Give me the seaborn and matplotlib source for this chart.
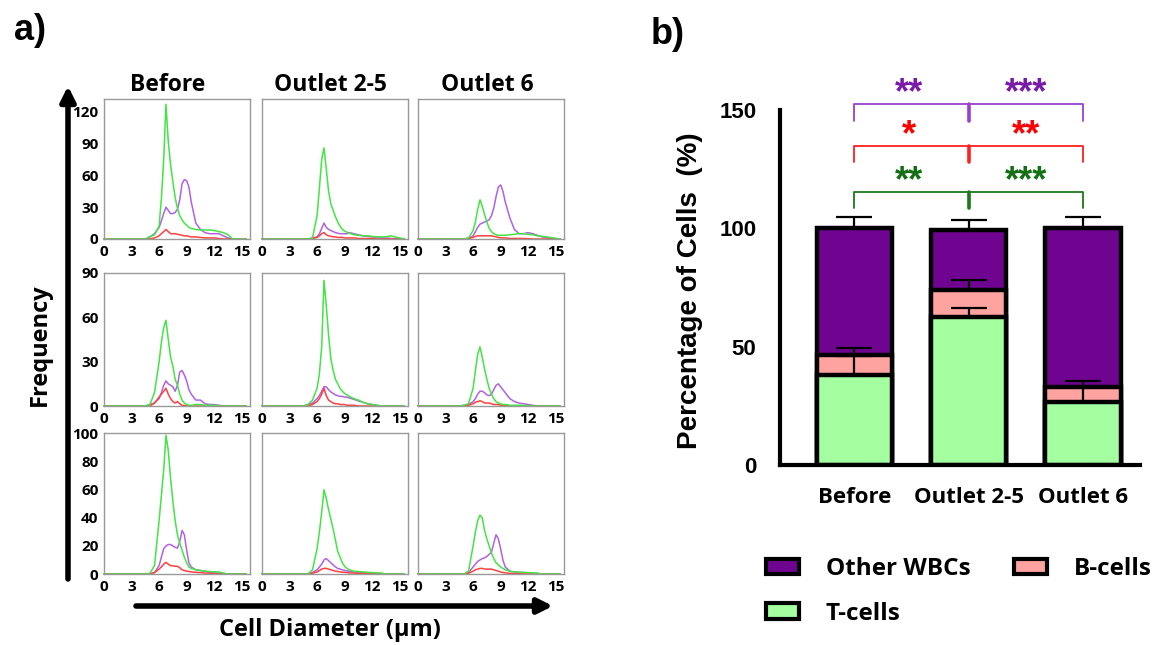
import numpy as np
import pandas as pd
import matplotlib
matplotlib.use("Agg")
import matplotlib.pyplot as plt
import seaborn as sns
from matplotlib.patches import Patch

# ---- histogram data (cell diameter in um, frequency) ----
diam = [0, 4.5, 5, 5.5, 6, 6.25, 6.5, 6.75, 7, 7.25, 7.5, 7.75, 8, 8.25, 8.5,
        8.75, 9, 9.25, 9.5, 10, 10.5, 11, 11.5, 12, 12.5, 13, 13.5, 14, 15.5]
samples = ["Before", "Outlet 2-5", "Outlet 6"]

# row 1
t_r1_before = [0, 0, 2, 4, 12, 38, 75, 127, 92, 70, 54, 39, 29, 22, 18, 15, 13, 11, 10, 9, 8.5, 8.5, 8.5, 8, 7, 6, 4, 0, 0]
o_r1_before = [0, 0, 2, 5, 11, 17, 24, 30, 27, 24, 24, 25, 28, 37, 52, 56, 55, 49, 35, 15, 9, 6, 5, 5, 5, 3, 1, 0, 0]
b_r1_before = [0, 0, 0, 1, 3, 5, 7, 9, 7, 5, 5, 5, 4.5, 4, 3.5, 3, 3, 2.5, 2, 2, 1.5, 1, 1, 1, 0.5, 0, 0, 0, 0]
t_r1_out25 = [0, 0, 0, 1, 22, 48, 75, 86, 66, 45, 33, 27, 21, 16, 12, 9, 7.5, 6.5, 5.5, 4, 3.5, 3, 3, 2.5, 2, 2, 2, 3, 0]
o_r1_out25 = [0, 0, 0, 1, 2, 5, 10, 15, 11, 9, 8, 7, 6, 5.5, 5, 5, 5, 5, 6, 5, 4, 3, 2.5, 2, 1.5, 1, 1, 0.5, 0]
b_r1_out25 = [0, 0, 0, 0.5, 1.5, 3, 5, 6, 4, 3, 2.5, 2, 2, 1.5, 1.5, 1.5, 1, 1, 1, 1, 0.5, 0.5, 0.5, 0.5, 0, 0, 0, 0, 0]
t_r1_out6 = [0, 0, 0, 1, 8, 16, 28, 37, 31, 23, 16, 10, 7, 5, 4, 3.5, 3.5, 3.5, 3.5, 4, 4.5, 5, 5, 4.5, 4, 3, 2.5, 2, 0]
o_r1_out6 = [0, 0, 0, 0.5, 3, 7, 11, 14, 15, 16, 17, 18, 22, 29, 40, 49, 51, 45, 35, 20, 9, 5, 5, 6, 5, 3.5, 2, 1, 0]
b_r1_out6 = [0, 0, 0, 0.5, 1.5, 2.5, 3, 3, 3, 3, 3, 3, 3, 2.5, 2, 1.5, 1, 1, 1, 0.5, 0.5, 0.5, 0.5, 0.3, 0, 0, 0, 0, 0]

# row 2
t_r2_before = [0, 0, 1, 9, 30, 43, 53, 58, 45, 33, 27, 18, 14, 8, 4, 2, 1, 0.5, 0.5, 1, 1, 0.5, 0.5, 0.5, 0, 0, 0, 0, 0]
o_r2_before = [0, 0, 1, 2, 5, 9, 14, 17, 15, 14, 13, 10, 14, 23, 24, 21, 17, 11, 8, 4, 4, 1.5, 1, 1, 0.5, 0, 0, 0, 0]
b_r2_before = [0, 0, 0, 2, 6, 8, 10, 12, 8, 5, 3, 2, 3, 1.5, 0.5, 0.3, 0, 0, 0, 0, 0, 0, 0, 0, 0, 0, 0, 0, 0]
t_r2_out25 = [0, 0, 1, 4, 12, 22, 40, 85, 68, 48, 32, 24, 18, 15, 12, 10, 8.5, 7.5, 6.5, 5, 4, 2.5, 1.5, 1, 0.5, 0, 0, 0, 0]
o_r2_out25 = [0, 0, 1, 2, 5, 7, 10, 13, 13, 11, 9.5, 8.5, 7.5, 7, 6.5, 6.5, 6, 6, 5.5, 4.5, 3.5, 2.5, 1.5, 1, 0.5, 0, 0, 0, 0]
b_r2_out25 = [0, 0, 0, 1, 3, 5, 8, 12, 7, 4, 3, 2, 1.5, 1.5, 1, 1, 1, 0.5, 0.5, 0.5, 0, 0, 0, 0, 0, 0, 0, 0, 0]
t_r2_out6 = [0, 0, 0.5, 1.5, 12, 24, 35, 40, 33, 25, 18, 12, 8, 5, 3, 2, 1.5, 1, 1, 0.5, 0.5, 0.5, 0.3, 0.3, 0, 0, 0, 0, 0]
o_r2_out6 = [0, 0, 0.5, 1, 3, 5, 8, 10, 10, 9, 7.5, 7, 8, 11, 14, 15, 13, 11, 9, 5, 3, 2, 1.5, 1, 0.5, 0, 0, 0, 0]
b_r2_out6 = [0, 0, 0, 0.5, 1.5, 2.5, 3, 3.5, 3, 2, 2, 2, 1.5, 1, 1, 1, 0.5, 0.5, 0.5, 0, 0, 0, 0, 0, 0, 0, 0, 0, 0]

# row 3
t_r3_before = [0, 0, 0.5, 6, 38, 56, 74, 99, 88, 68, 52, 38, 28, 22, 17, 12, 8, 5, 4, 3, 2.5, 2, 1.8, 1.5, 1.5, 0.7, 0, 0, 0]
o_r3_before = [0, 0, 0, 1, 6, 12, 18, 20, 21, 21, 20, 19, 18.5, 23, 31, 28, 17, 8, 5, 3, 2.5, 2, 1.3, 1, 0.5, 0, 0, 0, 0]
b_r3_before = [0, 0, 0, 1, 3.5, 5, 7, 8.3, 7, 6, 5.8, 5.5, 5.5, 4.5, 3, 2.5, 2, 1.8, 1.5, 1.2, 1, 0.7, 0.5, 0.3, 0, 0, 0, 0, 0]
t_r3_out25 = [0, 0, 0, 3, 18, 30, 44, 60, 54, 46, 39, 32, 24, 16, 12, 8, 5.5, 4, 3, 2, 1.8, 1.5, 1.2, 1, 0.8, 0.7, 0, 0, 0]
o_r3_out25 = [0, 0, 0, 1, 3, 5, 7, 10, 11, 9.5, 8, 6.5, 5, 4, 3.5, 3, 2.6, 2.2, 2, 1.5, 1.2, 1, 0.8, 0.6, 0.5, 0, 0, 0, 0]
b_r3_out25 = [0, 0, 0, 0.5, 1.5, 2.5, 3.5, 4, 4, 3.5, 3, 2.5, 2, 1.8, 1.5, 1.3, 1.2, 1, 0.8, 0.6, 0.5, 0.4, 0.3, 0.2, 0, 0, 0, 0, 0]
t_r3_out6 = [0, 0, 0, 2, 20, 30, 38, 42, 40, 31, 25, 20, 15, 11, 8, 6.5, 5, 4, 3, 2, 1.5, 1.3, 1.2, 1, 0.8, 0.7, 0, 0, 0]
o_r3_out6 = [0, 0, 0, 1, 5, 7, 9, 10, 11, 11.5, 12.5, 14, 15.5, 22, 28, 25, 18, 10, 5, 2, 1.5, 1.2, 1, 0.8, 0.5, 0, 0, 0, 0]
b_r3_out6 = [0, 0, 0, 0.5, 2, 3, 3.5, 4, 4, 3.5, 3.5, 3.5, 3.5, 3, 2.5, 2, 1.5, 1, 0.8, 0.5, 0.3, 0.2, 0, 0, 0, 0, 0, 0, 0]

row_ylim = [132, 90, 100.5]
row_yticks = [[0, 30, 60, 90, 120], [0, 30, 60, 90], [0, 20, 40, 60, 80, 100]]
x_ticks = [0, 3, 6, 9, 12, 15]

# ---- stacked bar data (% of cells) ----
groups = ["Before", "Outlet 2-5", "Outlet 6"]
t_pct = [38, 62.5, 26.5]
b_pct = [8.5, 11.5, 6.5]
o_pct = [53.5, 25.5, 67]
t_err = [8, 4, 6.5]
b_err = [3, 4, 2.5]
o_err = [5, 4, 5]
sig_t = ["**", "***"]
sig_b = ["*", "**"]
sig_o = ["**", "***"]

# colours
hist_pal = {"Other WBCs": "#b062e0", "B-cells": "#ff4040", "T-cells": "#44e444"}
bar_other = "#6f0490"
bar_b = "#ffa3a0"
bar_t = "#a3ffa0"

sns.set_theme(style="white")
plt.rcParams["font.family"] = ["Open Sans", "DejaVu Sans"]
plt.rcParams["font.weight"] = "bold"
plt.rcParams["text.color"] = "black"
plt.rcParams["axes.labelcolor"] = "black"
plt.rcParams["xtick.color"] = "black"
plt.rcParams["ytick.color"] = "black"

W, H = 1160, 645
fig = plt.figure(figsize=(11.6, 6.45), dpi=100)


def fx(px):
    return px / W


def fy(py):
    return 1 - py / H


ARIAL = ["Liberation Sans", "DejaVu Sans"]

# build long-form table for the histograms
curves = {
    (0, "Before"): (t_r1_before, b_r1_before, o_r1_before),
    (0, "Outlet 2-5"): (t_r1_out25, b_r1_out25, o_r1_out25),
    (0, "Outlet 6"): (t_r1_out6, b_r1_out6, o_r1_out6),
    (1, "Before"): (t_r2_before, b_r2_before, o_r2_before),
    (1, "Outlet 2-5"): (t_r2_out25, b_r2_out25, o_r2_out25),
    (1, "Outlet 6"): (t_r2_out6, b_r2_out6, o_r2_out6),
    (2, "Before"): (t_r3_before, b_r3_before, o_r3_before),
    (2, "Outlet 2-5"): (t_r3_out25, b_r3_out25, o_r3_out25),
    (2, "Outlet 6"): (t_r3_out6, b_r3_out6, o_r3_out6),
}
frames = []
for (row, sample), (t, b, o) in curves.items():
    for cell, vals in [("Other WBCs", o), ("B-cells", b), ("T-cells", t)]:
        d = pd.DataFrame({"diameter": diam, "freq": vals})
        d["row"] = row
        d["sample"] = sample
        d["cell"] = cell
        frames.append(d)
hist_df = pd.concat(frames, ignore_index=True)

col_left = [104, 262, 418]
col_w = 146
row_top = [99, 273, 433]
row_h = [140, 133, 141]
title_cx = [168, 330, 487]

for r in range(3):
    for c, sample in enumerate(samples):
        ax = fig.add_axes([fx(col_left[c]), fy(row_top[r] + row_h[r]),
                           col_w / W, row_h[r] / H])
        sub = hist_df[(hist_df["row"] == r) & (hist_df["sample"] == sample)]
        sns.lineplot(data=sub, x="diameter", y="freq", hue="cell",
                     palette=hist_pal, ax=ax, legend=False, lw=1.1,
                     clip_on=False)
        ax.set_xlim(0, 15.9)
        ax.set_ylim(0, row_ylim[r])
        ax.set_xticks(x_ticks)
        ax.set_yticks(row_yticks[r])
        ax.set_xlabel("")
        ax.set_ylabel("")
        for s in ax.spines.values():
            s.set_color("#999999")
            s.set_linewidth(1.0)
        ax.tick_params(axis="both", length=2.5, width=0.8, color="#999999",
                       labelsize=11, pad=1.5, labelcolor="black")
        if c > 0:
            ax.tick_params(labelleft=False)
        for lab in ax.get_xticklabels() + ax.get_yticklabels():
            lab.set_fontweight("bold")
        if r == 0:
            ax.set_title(sample, fontsize=16.5, fontweight="bold", pad=6,
                         x=(title_cx[c] - col_left[c]) / col_w)

# ---- panel b: stacked bars ----
axb = fig.add_axes([fx(780), fy(465), (1140 - 780) / W, (465 - 110) / H])
tb_top = [t + b for t, b in zip(t_pct, b_pct)]
all_top = [t + b + o for t, b, o in zip(t_pct, b_pct, o_pct)]
sns.barplot(x=groups, y=all_top, color=bar_other, saturation=1, width=0.66,
            edgecolor="black", linewidth=3.2, errorbar=None, ax=axb)
sns.barplot(x=groups, y=tb_top, color=bar_b, saturation=1, width=0.66,
            edgecolor="black", linewidth=3.2, errorbar=None, ax=axb)
sns.barplot(x=groups, y=t_pct, color=bar_t, saturation=1, width=0.66,
            edgecolor="black", linewidth=3.2, errorbar=None, ax=axb)

xpos = np.arange(len(groups))
for tops, err in [(t_pct, t_err), (tb_top, b_err), (all_top, o_err)]:
    axb.errorbar(xpos, tops, yerr=[np.zeros(len(err)), err], fmt="none",
                 ecolor="black", elinewidth=1.6, capsize=13, capthick=1.6,
                 zorder=6)

axb.set_xlim(-0.65, 2.5)
axb.set_ylim(0, 150)
axb.set_yticks([0, 50, 100, 150])
sns.despine(ax=axb)
for side in ["left", "bottom"]:
    axb.spines[side].set_linewidth(3)
    axb.spines[side].set_color("black")
axb.tick_params(axis="both", width=3, length=11, color="black",
                direction="out")
axb.tick_params(axis="y", pad=6)
axb.tick_params(axis="x", pad=5)
for lab in axb.get_yticklabels():
    lab.set_fontfamily(ARIAL)
    lab.set_fontsize(16)
    lab.set_fontweight("bold")
for lab in axb.get_xticklabels():
    lab.set_fontsize(16)
    lab.set_fontweight("bold")
axb.set_ylabel("Percentage of Cells  (%)", fontsize=20, fontweight="bold",
               family=ARIAL)
axb.yaxis.set_label_coords(-0.215, 0.49)

# significance brackets
brackets = [
    (115.3, 108.4, "#1a7a1a", "#147014", 124.0, sig_t),
    (135.0, 128.0, "#ff2020", "#ff0000", 143.5, sig_b),
    (152.6, 145.3, "#9b3fd0", "#7a1aa8", 161.0, sig_o),
]
for ytop, yleg, lcol, tcol, ystar, sig in brackets:
    axb.plot([0, 0, 2, 2], [yleg, ytop, ytop, yleg], color=lcol, lw=1.3,
             clip_on=False, zorder=6)
    axb.plot([1, 1], [ytop, yleg], color=lcol, lw=2.6, clip_on=False,
             zorder=6)
    for xs, s in zip([0.48, 1.5], sig):
        axb.annotate(s, (xs, ystar), xytext=(0, -14), textcoords="offset points",
                     ha="center", va="baseline", color=tcol, fontsize=26,
                     fontweight="bold", family=ARIAL, annotation_clip=False)

handles = [Patch(facecolor=bar_other, edgecolor="black", linewidth=3, label="Other WBCs"),
           Patch(facecolor=bar_t, edgecolor="black", linewidth=3, label="T-cells"),
           Patch(facecolor=bar_b, edgecolor="black", linewidth=3, label="B-cells")]
fig.legend(handles=handles, loc="upper left", bbox_to_anchor=(fx(766), fy(557)),
           ncol=2, frameon=False, prop={"size": 17.5, "weight": "bold"},
           handlelength=1.35, handleheight=0.6, handletextpad=1.1,
           columnspacing=1.8, labelspacing=0.85, borderpad=0, borderaxespad=0)

# ---- overlay: arrows and panel labels ----
ov = fig.add_axes([0, 0, 1, 1])
ov.set_axis_off()
ov.set_xlim(0, 1)
ov.set_ylim(0, 1)
ov.annotate("", xy=(fx(68), fy(86)), xytext=(fx(68), fy(579)),
            xycoords="axes fraction",
            arrowprops=dict(arrowstyle="-|>", lw=4, color="black",
                            mutation_scale=22, shrinkA=0, shrinkB=0))
ov.annotate("", xy=(fx(553), fy(606)), xytext=(fx(136), fy(606)),
            xycoords="axes fraction",
            arrowprops=dict(arrowstyle="-|>", lw=4, color="black",
                            mutation_scale=22, shrinkA=0, shrinkB=0))
fig.text(fx(40), fy(345), "Frequency", rotation=90, ha="center", va="center",
         fontsize=17, fontweight="bold")
fig.text(fx(330), fy(630), "Cell Diameter (µm)", ha="center", va="center",
         fontsize=17, fontweight="bold")
fig.text(fx(30), fy(30), "a)", ha="center", va="center", fontsize=26,
         fontweight="bold", family=ARIAL)
fig.text(fx(668), fy(34), "b)", ha="center", va="center", fontsize=26,
         fontweight="bold", family=ARIAL)

fig.savefig("out.png", dpi=100)
